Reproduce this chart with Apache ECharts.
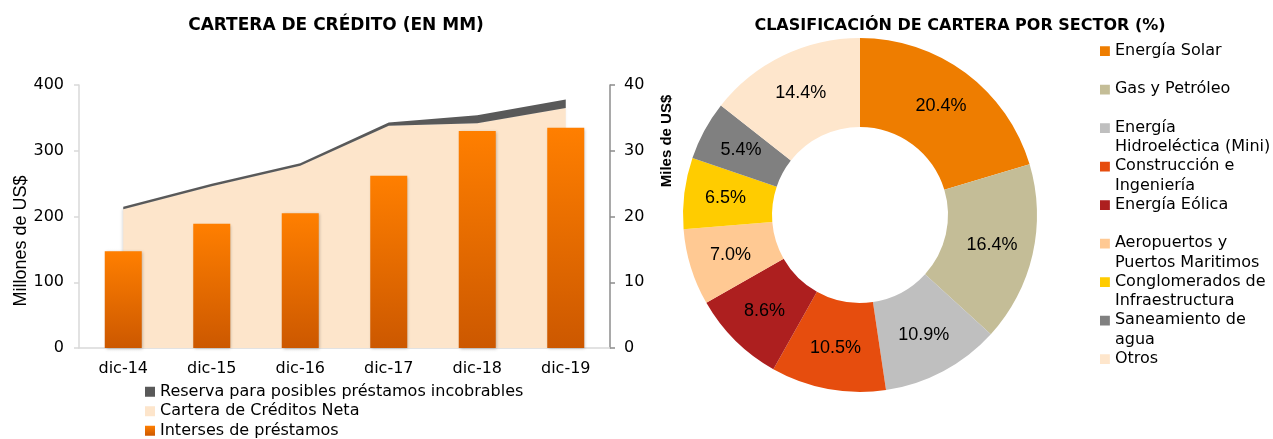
<!DOCTYPE html>
<html><head><meta charset="utf-8">
<script src="https://cdn.jsdelivr.net/npm/echarts@6/dist/echarts.min.js"></script>
<style>html,body{margin:0;padding:0;background:#fff}#c{width:1273px;height:439px}</style>
</head><body><div id="c"></div>
<script>
// ---- data ----
const categories = ['dic-14', 'dic-15', 'dic-16', 'dic-17', 'dic-18', 'dic-19'];
const carteraNeta = [211, 246, 277, 338, 342, 365];      // Millones de US$
const reserva = [4, 4, 4, 5, 12, 13];                    // Millones de US$
const intereses = [14.7, 18.9, 20.5, 26.2, 33.0, 33.5];  // Miles de US$
const leftTicks = [0, 100, 200, 300, 400];
const rightTicks = [0, 10, 20, 30, 40];
const sectorNames = ['Energía Solar', 'Gas y Petróleo', 'Energía Hidroeléctica (Mini)', 'Construcción e Ingeniería',
  'Energía Eólica', 'Aeropuertos y Puertos Maritimos', 'Conglomerados de Infraestructura', 'Saneamiento de agua', 'Otros'];
const sectorLegendLines = [['Energía Solar', ' '], ['Gas y Petróleo', ' '], ['Energía', 'Hidroeléctica (Mini)'],
  ['Construcción e', 'Ingeniería'], ['Energía Eólica', ' '], ['Aeropuertos y', 'Puertos Maritimos'],
  ['Conglomerados de', 'Infraestructura'], ['Saneamiento de', 'agua'], ['Otros', ' ']];
const sectorValues = [20.4, 16.4, 10.9, 10.5, 8.6, 7.0, 6.5, 5.4, 14.4];

const legendNames = ['Reserva para posibles préstamos incobrables', 'Cartera de Créditos Neta', 'Interses de préstamos'];

// ---- styles ----
const WIDE = 'DejaVu Sans';
const ARIAL = 'Liberation Sans';
const sectorColors = ['#EE7D00', '#C4BD97', '#BFBFBF', '#E64D0E', '#AD1F1F', '#FFC993', '#FFCC00', '#808080', '#FEE6CC'];

const chart = echarts.init(document.getElementById('c'), null, {renderer: 'canvas'});
const barGrad = new echarts.graphic.LinearGradient(0, 0, 0, 1, [
  {offset: 0, color: '#FF7F00'}, {offset: 1, color: '#CC5800'}]);

const legendIcon = 'path://M0,0L0.01,0Z M0,5L10,5L10,15L0,15Z M0,38.5L0.01,38.5Z';

chart.setOption({
  animation: false,
  backgroundColor: '#fff',
  title: [
    {text: 'CARTERA DE CRÉDITO (EN MM)', left: 336, top: 16, padding: 0, textAlign: 'center',
      textStyle: {fontFamily: WIDE, fontWeight: 'bold', fontSize: 17, color: '#000', lineHeight: 20}},
    {text: 'CLASIFICACIÓN DE CARTERA POR SECTOR (%)', left: 960, top: 16, padding: 0, textAlign: 'center',
      textStyle: {fontFamily: WIDE, fontWeight: 'bold', fontSize: 16, color: '#000', lineHeight: 20}}
  ],
  legend: [
    {data: legendNames, orient: 'vertical', left: 145, top: 382, height: 80, padding: 0, icon: 'rect',
      itemWidth: 10, itemHeight: 10, itemGap: 0, selectedMode: false,
      textStyle: {fontFamily: WIDE, fontSize: 16, color: '#000', lineHeight: 19.5}},
    {data: sectorNames, orient: 'vertical', left: 1100, top: 41, padding: 0, icon: legendIcon, itemWidth: 10, itemHeight: 38,
      itemGap: 0, selectedMode: false,
      formatter: function (n) { return sectorLegendLines[sectorNames.indexOf(n)].join('\n'); },
      textStyle: {fontFamily: WIDE, fontSize: 16, color: '#000', lineHeight: 19.25}}
  ],
  graphic: [
    {type: 'text', x: 21, y: 241, rotation: Math.PI / 2,
      style: {text: 'Millones de US$', fontFamily: ARIAL, fontSize: 18, fill: '#000', align: 'center', verticalAlign: 'middle'}},
    {type: 'text', x: 667, y: 141, rotation: Math.PI / 2,
      style: {text: 'Miles de US$', fontFamily: ARIAL, fontWeight: 'bold', fontSize: 15, fill: '#000', align: 'center', verticalAlign: 'middle'}}
  ],
  grid: {left: 79, right: 663, top: 85, bottom: 91},
  xAxis: {type: 'category', data: categories, boundaryGap: true,
    axisLine: {lineStyle: {color: '#D9D9D9', width: 1.5}}, axisTick: {show: false},
    axisLabel: {fontFamily: WIDE, fontSize: 16, color: '#000', margin: 13}},
  yAxis: [
    {type: 'value', min: leftTicks[0], max: leftTicks[leftTicks.length - 1], interval: 100, position: 'left',
      axisLine: {show: true, lineStyle: {color: '#D9D9D9', width: 1.5}},
      axisTick: {show: true, length: 5, lineStyle: {color: '#D9D9D9', width: 1.5}},
      splitLine: {show: false},
      axisLabel: {fontFamily: WIDE, fontSize: 16, color: '#000', margin: 15}},
    {type: 'value', min: rightTicks[0], max: rightTicks[rightTicks.length - 1], interval: 10, position: 'right',
      axisLine: {show: true, lineStyle: {color: '#8C8C8C', width: 1.5}},
      axisTick: {show: true, length: 5, lineStyle: {color: '#8C8C8C', width: 1.5}},
      splitLine: {show: false},
      axisLabel: {fontFamily: WIDE, fontSize: 16, color: '#000', margin: 14}}
  ],
  series: [
    {name: legendNames[1], type: 'line', stack: 'cart', data: carteraNeta, symbol: 'none', z: 1,
      lineStyle: {width: 0}, itemStyle: {color: '#FDE5CB'},
      areaStyle: {color: '#FDE5CB', opacity: 1, shadowBlur: 3, shadowColor: 'rgba(0,0,0,0.15)', shadowOffsetX: -1}},
    {name: legendNames[0], type: 'line', stack: 'cart', data: reserva, symbol: 'none', z: 1,
      lineStyle: {width: 0}, itemStyle: {color: '#595959'},
      areaStyle: {color: '#595959', opacity: 1}},
    {name: legendNames[2], type: 'bar', yAxisIndex: 1, data: intereses, barWidth: 37, z: 5,
      itemStyle: {color: barGrad, shadowBlur: 3, shadowColor: 'rgba(0,0,0,0.25)', shadowOffsetX: 1, shadowOffsetY: 1}},
    {type: 'pie', center: [860, 215], radius: [88, 177], startAngle: 90, clockwise: true,
      avoidLabelOverlap: false, emphasis: {disabled: true},
      color: sectorColors,
      data: sectorNames.map(function (n, i) { return {name: n, value: sectorValues[i]}; }),
      label: {show: true, position: 'inside', formatter: function (p) { return p.value.toFixed(1) + '%'; },
        fontFamily: ARIAL, fontSize: 18, color: '#000'},
      labelLine: {show: false}}
  ]
});
</script></body></html>
